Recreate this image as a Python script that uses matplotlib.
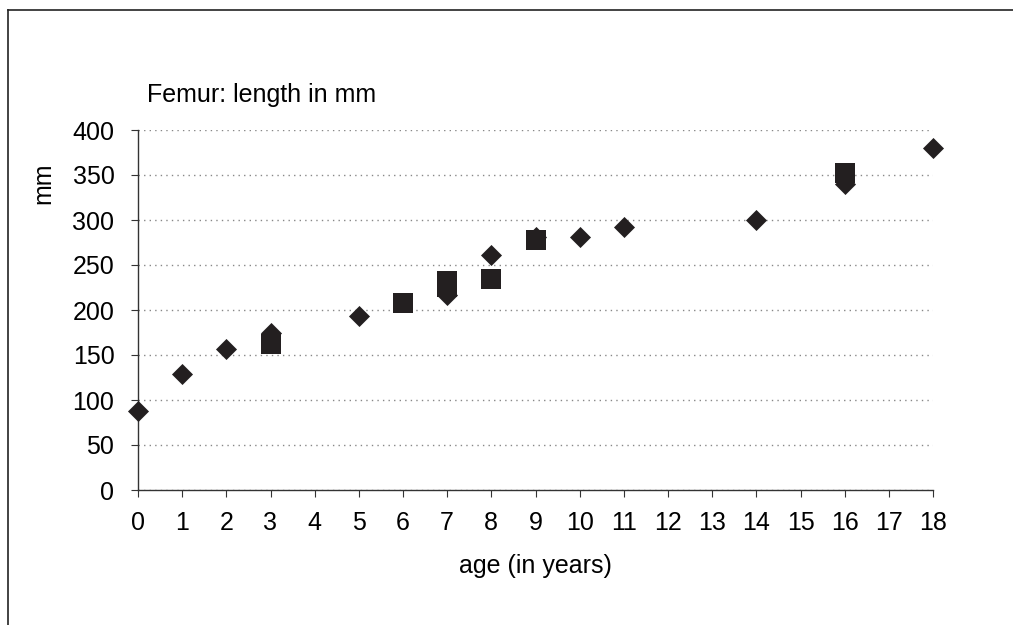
import matplotlib.pyplot as plt
from matplotlib.lines import Line2D

plt.rcParams["font.family"] = ["Liberation Sans", "DejaVu Sans"]

# series 1 (diamonds)
edad_d = [0, 1, 2, 3, 5, 7, 8, 9, 10, 11, 14, 16, 18]
largo_d = [88, 129, 157, 175, 193, 217, 261, 281, 281, 292, 300, 340, 380]

# series 2 (squares)
edad_s = [3, 6, 7, 7, 8, 9, 16]
largo_s = [162, 208, 232, 226, 235, 278, 352]

color = "#231f20"

fig = plt.figure(figsize=(10.13, 6.25), dpi=100)
ax = fig.add_axes([138 / 1013, 1 - 490 / 625, (933 - 138) / 1013, 360 / 625])

ax.scatter(edad_d, largo_d, marker="D", s=115, color=color, zorder=3, clip_on=False, linewidths=0)
ax.scatter(edad_s, largo_s, marker="s", s=210, color=color, zorder=4, clip_on=False, linewidths=0)

ax.set_xlim(0, 18)
ax.set_ylim(0, 400)
ax.set_xticks(range(0, 19))
ax.set_yticks(range(0, 401, 50))
ax.grid(axis="y", linestyle=(0, (1, 3)), color="#888888", linewidth=1)
ax.set_axisbelow(True)

for s in ["top", "right"]:
    ax.spines[s].set_visible(False)
for s in ["left", "bottom"]:
    ax.spines[s].set_color("#333333")
    ax.spines[s].set_linewidth(1)

fs = 18
ax.tick_params(axis="y", direction="out", length=5, pad=12, labelsize=fs, color="#333333")
ax.tick_params(axis="x", direction="out", length=5, pad=10, labelsize=fs, color="#333333")

ax.set_xlabel("age (in years)", fontsize=fs, labelpad=14)
fig.text(43 / 1013, 1 - 183 / 625, "mm", rotation=90, fontsize=fs, ha="center", va="center")
fig.text(147 / 1013, 1 - 95 / 625, "Femur: length in mm", fontsize=fs, ha="left", va="center")

# border lines (left and top)
fig.add_artist(Line2D([8 / 1013, 8 / 1013], [0, 1 - 10 / 625], transform=fig.transFigure, color="#222222", lw=1.2))
fig.add_artist(Line2D([8 / 1013, 1], [1 - 10 / 625, 1 - 10 / 625], transform=fig.transFigure, color="#222222", lw=1.2))

fig.savefig("out.png", dpi=100)
plt.close()
